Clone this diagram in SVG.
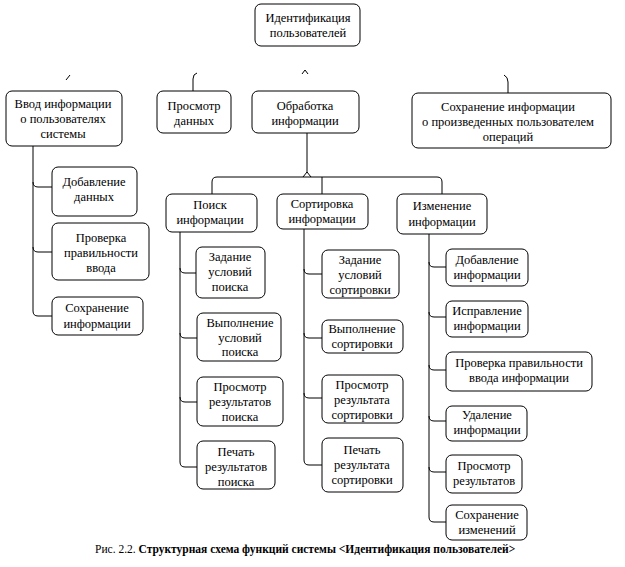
<svg xmlns="http://www.w3.org/2000/svg" width="625" height="567" viewBox="0 0 625 567" font-family="'Liberation Serif', 'DejaVu Serif', serif">
<style>
.b{fill:#fff;stroke:#000;stroke-width:1}
.c{fill:none;stroke:#000;stroke-width:1}
.t text{font-family:'Liberation Serif','DejaVu Serif',serif;font-size:12.5px;fill:#000;text-anchor:middle}
.cap{text-anchor:start;font-size:11.5px;font-family:'Liberation Serif','DejaVu Serif',serif}
</style>
<rect width="625" height="567" fill="#fff"/>
<g id="connectors">
<path class="c" d="M66 80 L70 75"/>
<path class="c" d="M302 74 L305 70 L308 74"/>
<path class="c" d="M193 91 V79 Q193 74 197 73"/>
<path class="c" d="M508 93 V82 Q508 77 504 75"/>
<path class="c" d="M33 146 V311 Q33 316 38 316 H52"/>
<path class="c" d="M33 182 Q33 187 38 187 H52"/>
<path class="c" d="M33 247 Q33 252 38 252 H52"/>
<path class="c" d="M307 133 V173"/>
<path class="c" d="M303 177 L307 172 L311 177"/>
<path class="c" d="M212 194 V182 Q212 177 217 177 H437 Q442 177 442 182 V194"/>
<path class="c" d="M322 177 V194"/>
<path class="c" d="M180 232 V462 Q180 467 185 467 H197"/>
<path class="c" d="M180 268 Q180 273 185 273 H196"/>
<path class="c" d="M180 333 Q180 338 185 338 H197"/>
<path class="c" d="M180 397 Q180 402 185 402 H197"/>
<path class="c" d="M304 229 V460 Q304 465 309 465 H322"/>
<path class="c" d="M304 269 Q304 274 309 274 H322"/>
<path class="c" d="M304 333 Q304 338 309 338 H322"/>
<path class="c" d="M304 393 Q304 398 309 398 H322"/>
<path class="c" d="M429 234 V517 Q429 522 434 522 H446"/>
<path class="c" d="M429 262 Q429 267 434 267 H446"/>
<path class="c" d="M429 312 Q429 317 434 317 H446"/>
<path class="c" d="M429 365 Q429 370 434 370 H446"/>
<path class="c" d="M429 416 Q429 421 434 421 H446"/>
<path class="c" d="M429 467 Q429 472 434 472 H446"/>
</g>
<g class="t">
<g id="n-root"><rect class="b" x="255" y="4" width="105" height="42" rx="6"/><text x="308" y="22">Идентификация</text><text x="308" y="37">пользователей</text></g>
<g id="n-vvod"><rect class="b" x="6" y="91" width="116" height="55" rx="6"/><text x="63" y="108">Ввод информации</text><text x="63" y="123">о пользователях</text><text x="63" y="138">системы</text></g>
<g id="n-prosmotr"><rect class="b" x="157" y="91" width="74" height="42" rx="6"/><text x="194" y="110">Просмотр</text><text x="194" y="125">данных</text></g>
<g id="n-obrabotka"><rect class="b" x="252" y="91" width="107" height="42" rx="6"/><text x="305" y="110">Обработка</text><text x="305" y="125">информации</text></g>
<g id="n-sohranenie"><rect class="b" x="412" y="93" width="199" height="55" rx="6"/><text x="508" y="111">Сохранение информации</text><text x="508" y="126">о произведенных пользователем</text><text x="508" y="141">операций</text></g>
<g id="n-dobavlenie-dannyh"><rect class="b" x="52" y="167" width="85" height="49" rx="6"/><text x="94" y="186">Добавление</text><text x="94" y="201">данных</text></g>
<g id="n-proverka-vvoda"><rect class="b" x="52" y="223" width="97" height="57" rx="6"/><text x="101" y="242">Проверка</text><text x="101" y="257">правильности</text><text x="101" y="272">ввода</text></g>
<g id="n-sohranenie-info"><rect class="b" x="52" y="297" width="91" height="38" rx="6"/><text x="97" y="312">Сохранение</text><text x="97" y="328">информации</text></g>
<g id="n-poisk"><rect class="b" x="166" y="194" width="91" height="38" rx="6"/><text x="210" y="209">Поиск</text><text x="210" y="224">информации</text></g>
<g id="n-sortirovka"><rect class="b" x="277" y="194" width="91" height="35" rx="6"/><text x="322" y="208">Сортировка</text><text x="322" y="223">информации</text></g>
<g id="n-izmenenie"><rect class="b" x="397" y="194" width="90" height="40" rx="6"/><text x="442" y="210">Изменение</text><text x="442" y="226">информации</text></g>
<g id="n-zadanie-poiska"><rect class="b" x="196" y="247" width="69" height="51" rx="6"/><text x="230" y="261">Задание</text><text x="230" y="276">условий</text><text x="230" y="291">поиска</text></g>
<g id="n-vypolnenie-poiska"><rect class="b" x="197" y="313" width="84" height="48" rx="6"/><text x="240" y="327">Выполнение</text><text x="240" y="342">условий</text><text x="240" y="356">поиска</text></g>
<g id="n-prosmotr-poiska"><rect class="b" x="197" y="377" width="86" height="49" rx="6"/><text x="240" y="391">Просмотр</text><text x="240" y="406">результатов</text><text x="240" y="421">поиска</text></g>
<g id="n-pechat-poiska"><rect class="b" x="197" y="441" width="78" height="48" rx="6"/><text x="236" y="456">Печать</text><text x="236" y="471">результатов</text><text x="236" y="486">поиска</text></g>
<g id="n-zadanie-sort"><rect class="b" x="322" y="250" width="77" height="48" rx="6"/><text x="360" y="264">Задание</text><text x="360" y="279">условий</text><text x="360" y="294">сортировки</text></g>
<g id="n-vypolnenie-sort"><rect class="b" x="322" y="320" width="81" height="33" rx="6"/><text x="362" y="333">Выполнение</text><text x="362" y="348">сортировки</text></g>
<g id="n-prosmotr-sort"><rect class="b" x="322" y="375" width="81" height="48" rx="6"/><text x="362" y="389">Просмотр</text><text x="362" y="404">результата</text><text x="362" y="419">сортировки</text></g>
<g id="n-pechat-sort"><rect class="b" x="322" y="438" width="81" height="54" rx="6"/><text x="362" y="454">Печать</text><text x="362" y="469">результата</text><text x="362" y="484">сортировки</text></g>
<g id="n-dobavlenie-info"><rect class="b" x="446" y="249" width="82" height="37" rx="6"/><text x="487" y="264">Добавление</text><text x="487" y="279">информации</text></g>
<g id="n-ispravlenie"><rect class="b" x="446" y="301" width="82" height="36" rx="6"/><text x="487" y="315">Исправление</text><text x="487" y="330">информации</text></g>
<g id="n-proverka-info"><rect class="b" x="446" y="352" width="146" height="39" rx="6"/><text x="519" y="367">Проверка правильности</text><text x="519" y="382">ввода информации</text></g>
<g id="n-udalenie"><rect class="b" x="446" y="406" width="81" height="35" rx="6"/><text x="487" y="419">Удаление</text><text x="487" y="434">информации</text></g>
<g id="n-prosmotr-rez"><rect class="b" x="446" y="455" width="76" height="38" rx="6"/><text x="484" y="470">Просмотр</text><text x="484" y="485">результатов</text></g>
<g id="n-sohr-izm"><rect class="b" x="446" y="505" width="81" height="35" rx="6"/><text x="487" y="519">Сохранение</text><text x="487" y="534">изменений</text></g>
</g>
<text class="cap" x="95" y="553">Рис. 2.2. <tspan font-weight="bold">Структурная схема функций системы &lt;Идентификация пользователей&gt;</tspan></text>
</svg>
